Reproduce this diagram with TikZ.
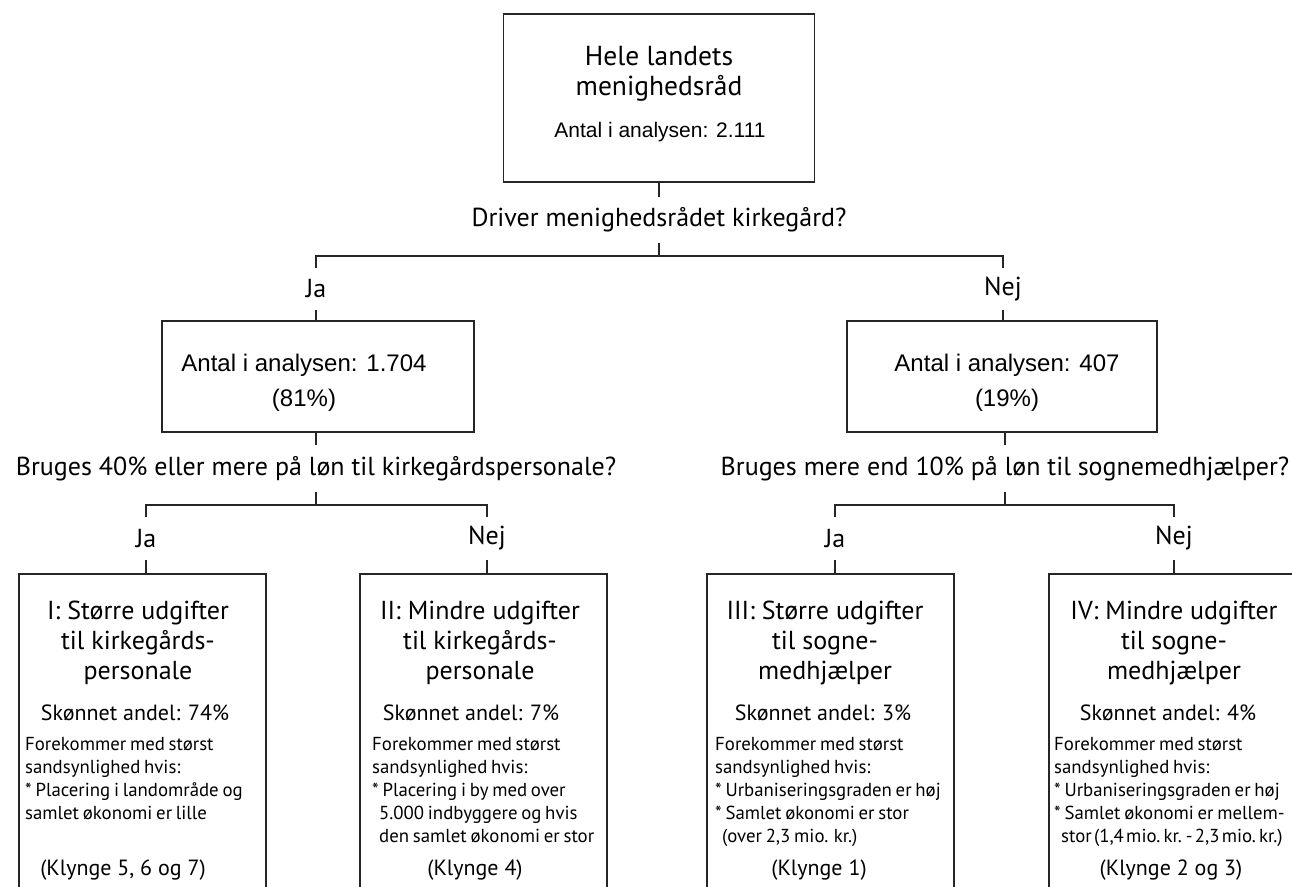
\documentclass[tikz,border=0pt]{standalone}
\usepackage{fontspec}
\setmainfont{PT Sans}
\newfontfamily\arialf{Liberation Sans}
\newcommand\tightsp{\spaceskip=0.2em plus 0.05em minus 0.05em\relax}
\newcommand\vtightsp{\spaceskip=0.12em\relax}
\begin{document}
\begin{tikzpicture}[x=1pt,y=-1pt,
  conn/.style={draw=black!85, line width=1.6pt},
  frame/.style={draw=black!85, line width=1.6pt, rectangle, inner sep=0pt},
  lbl/.style={inner sep=0pt, text=black, font=\fontsize{26}{30}\selectfont},
  ans/.style={lbl, minimum height=42pt},
  ques/.style={lbl, minimum height=46pt},
  cnt/.style={inner sep=0pt, text=black, align=center, font=\arialf\fontsize{24}{35}\selectfont},
  ttl/.style={inner sep=0pt, text=black, align=center, font=\fontsize{26}{30}\selectfont},
  share/.style={inner sep=0pt, text=black, font=\fontsize{22}{26}\selectfont},
  cond/.style={inner sep=0pt, text=black, align=left, anchor=north west, font=\fontsize{18.8}{23}\selectfont, execute at begin node=\tightsp},
  clus/.style={inner sep=0pt, text=black, font=\fontsize{22}{26}\selectfont},
  leaf/.style={frame, minimum width=247pt, minimum height=326pt}
]
\clip (0,0) rectangle (1292,886);

% root
\node[frame, minimum width=311pt, minimum height=168pt] (root) at (659,98) {};
\node[ttl, font=\fontsize{27.5}{30}\selectfont] (roottxt) at (659,74) {Hele landets\\menighedsråd};
\node[cnt, font=\arialf\fontsize{21}{24}\selectfont] (rootn) at (660,132) {Antal i analysen: 2.111};

\node[ques] (q0) at (659,220) {Driver menighedsrådet kirkegård?};
\coordinate (b0) at (659,256);
\node[ans] (j1) at (316,289) {Ja};
\node[ans] (n1) at (1003,289) {Nej};

% level 1
\node[frame, minimum width=312pt, minimum height=111pt] (L) at (318,376.5) {};
\node[cnt] (Ltxt) at (304,383) {Antal i analysen: 1.704\\(81\%)};
\node[frame, minimum width=310pt, minimum height=111pt] (R) at (1002,376.5) {};
\node[cnt] (Rtxt) at (1007,383) {Antal i analysen: 407\\(19\%)};

\node[ques, minimum height=47pt] (q1) at (316,468.5) {Bruges 40\% eller mere på løn til kirkegårdspersonale?};
\coordinate (b1) at (316,505);
\node[ques, minimum height=47pt] (q2) at (1005,468.5) {Bruges mere end 10\% på løn til sognemedhjælper?};
\coordinate (b2) at (1005,505);

\node[ans, minimum height=43pt] (j2) at (146,538.5) {Ja};
\node[ans, minimum height=43pt] (n2) at (487,538.5) {Nej};
\node[ans, minimum height=43pt] (j3) at (835,538.5) {Ja};
\node[ans, minimum height=43pt] (n3) at (1174,538.5) {Nej};

% leaves
\node[leaf] (c1) at (142.5,737) {};
\node[leaf] (c2) at (483.5,737) {};
\node[leaf] (c3) at (830.5,737) {};
\node[leaf] (c4) at (1172.5,737) {};

\node[ttl] (t1) at (138,643) {I: Større udgifter\\til kirkegårds-\\personale};
\node[ttl] (t2) at (480,643) {II: Mindre udgifter\\til kirkegårds-\\personale};
\node[ttl] (t3) at (825,643) {III: Større udgifter\\til sogne-\\medhjælper};
\node[ttl] (t4) at (1174,643) {IV: Mindre udgifter\\til sogne-\\medhjælper};

\node[share] (s1) at (135,713) {Skønnet andel: 74\%};
\node[share] (s2) at (471,713) {Skønnet andel: 7\%};
\node[share] (s3) at (823,713) {Skønnet andel: 3\%};
\node[share] (s4) at (1168,713) {Skønnet andel: 4\%};

\node[cond] (f1) at (25,737) {Forekommer med størst\\sandsynlighed hvis:\\{*} Placering i landområde og\\samlet økonomi er lille};
\node[cond] (f2) at (372,737) {Forekommer med størst\\sandsynlighed hvis:\\{*} Placering i by med over\\\hspace*{7pt}5.000 indbyggere og hvis\\\hspace*{7pt}den samlet økonomi er stor};
\node[cond] (f3) at (715,737) {Forekommer med størst\\sandsynlighed hvis:\\{*} Urbaniseringsgraden er høj\\{*} Samlet økonomi er stor\\\hspace*{7pt}(over 2,3 mio. kr.)};
\node[cond] (f4) at (1054,737) {Forekommer med størst\\sandsynlighed hvis:\\{*} Urbaniseringsgraden er høj\\{*} Samlet økonomi er mellem-\\\hspace*{7pt}{\vtightsp stor (1,4 mio.\,kr. - 2,3 mio.\,kr.)}};

\node[clus] (k1) at (123,870) {(Klynge 5, 6 og 7)};
\node[clus] (k2) at (475,870) {(Klynge 4)};
\node[clus] (k3) at (819,870) {(Klynge 1)};
\node[clus] (k4) at (1171,870) {(Klynge 2 og 3)};

% connectors
\draw[conn] (root.south -| q0.north) -- (q0.north);
\draw[conn] (q0.south) -- (b0);
\draw[conn] (j1.north) |- (b0) -| (n1.north);
\draw[conn] (j1.south) -- (j1.south |- L.north);
\draw[conn] (n1.south) -- (n1.south |- R.north);
\draw[conn] (L.south -| q1.north) -- (q1.north);
\draw[conn] (q1.south) -- (b1);
\draw[conn] (j2.north) |- (b1) -| (n2.north);
\draw[conn] (R.south -| q2.north) -- (q2.north);
\draw[conn] (q2.south) -- (b2);
\draw[conn] (j3.north) |- (b2) -| (n3.north);
\draw[conn] (j2.south) -- (j2.south |- c1.north);
\draw[conn] (n2.south) -- (n2.south |- c2.north);
\draw[conn] (j3.south) -- (j3.south |- c3.north);
\draw[conn] (n3.south) -- (n3.south |- c4.north);
\end{tikzpicture}
\end{document}
